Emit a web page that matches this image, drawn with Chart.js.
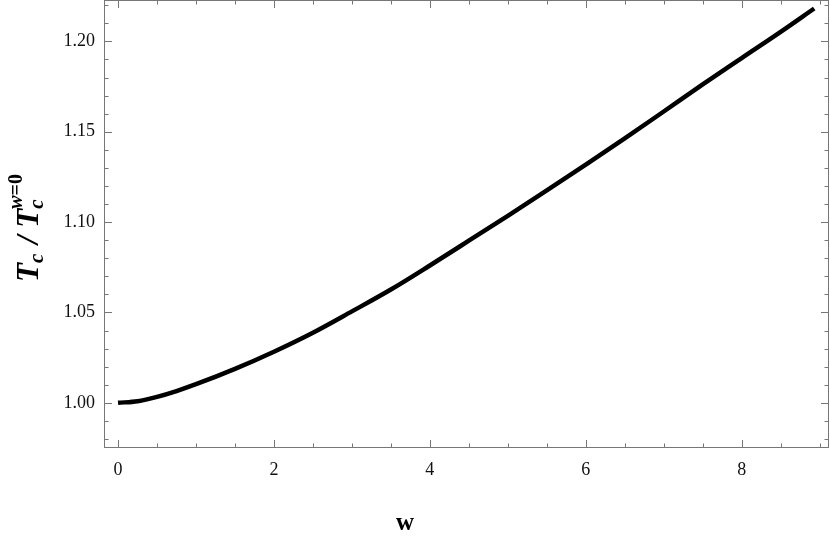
<!DOCTYPE html>
<html>
<head>
  <title>Tc ratio</title>
  <script src="https://cdn.jsdelivr.net/npm/chart.js"></script>
  <style>
    html, body { margin: 0; padding: 0; background: #fff; }
    #wrap { width: 830px; height: 544px; }
  </style>
</head>
<body>
  <div id="wrap"><canvas id="lineChart" width="830" height="544"></canvas></div>

  <script>
    // values
    const wValues = [0, 0.25, 0.5, 0.75, 1, 1.5, 2, 2.5, 3, 3.5, 4, 4.5, 5, 5.5, 6, 6.5, 7, 7.5, 8, 8.5, 8.93];
    const tcRatio = [1.000, 1.0009, 1.0033, 1.0065, 1.0103, 1.0188, 1.0283, 1.0388, 1.0506, 1.0627, 1.0760, 1.0897, 1.1035, 1.1175, 1.1318, 1.1463, 1.1612, 1.1762, 1.1908, 1.2053, 1.2182];

    const xMajor = [0, 2, 4, 6, 8];
    const xMinorStep = 0.5;
    const yMajor = [1.00, 1.05, 1.10, 1.15, 1.20];
    const yMinorStep = 0.01;

    const serif = "'Liberation Serif', 'DejaVu Serif', serif";

    function near(list, v) {
      return list.some(m => Math.abs(m - v) < 1e-6);
    }

    // inward frame ticks on all four sides, like a Mathematica frame
    const frameTicks = {
      id: 'frameTicks',
      afterDatasetsDraw(chart) {
        const { ctx, chartArea: a, scales: { x, y } } = chart;
        ctx.save();
        ctx.strokeStyle = '#777';
        ctx.lineWidth = 1;
        ctx.strokeRect(a.left + 0.5, a.top + 0.5, a.right - a.left - 1, a.bottom - a.top - 1);
        ctx.beginPath();
        for (let v = 0; v <= 9.001; v += xMinorStep) {
          const px = Math.round(x.getPixelForValue(v)) + 0.5;
          const len = near(xMajor, v) ? 8 : 4.5;
          ctx.moveTo(px, a.bottom); ctx.lineTo(px, a.bottom - len);
          ctx.moveTo(px, a.top); ctx.lineTo(px, a.top + len);
        }
        for (let v = 0.98; v <= 1.2201; v += yMinorStep) {
          const py = Math.round(y.getPixelForValue(v)) + 0.5;
          const len = near(yMajor, v) ? 8 : 4.5;
          ctx.moveTo(a.left, py); ctx.lineTo(a.left + len, py);
          ctx.moveTo(a.right, py); ctx.lineTo(a.right - len, py);
        }
        ctx.stroke();
        ctx.restore();
      },
      afterDraw(chart) {
        const ctx = chart.ctx;
        ctx.save();
        ctx.fillStyle = '#000';
        // x title
        ctx.font = 'bold 25px ' + serif;
        ctx.textAlign = 'center';
        ctx.textBaseline = 'alphabetic';
        ctx.fillText('w', 405, 530);

        // y title: T_c / T_c^{w=0}
        const big = 'italic bold 31px ' + serif;
        const subF = 'italic bold 21px ' + serif;
        const supI = 'italic bold 20px ' + serif;
        const supB = 'bold 20px ' + serif;
        ctx.textAlign = 'left';
        ctx.font = big; const wT = ctx.measureText('T').width;
        ctx.font = subF; const wc = ctx.measureText('c').width;
        ctx.font = big; const wSl = ctx.measureText(' / ').width;
        ctx.font = supI; const ww = ctx.measureText('w').width;
        ctx.font = supB; const weq = ctx.measureText('=0').width;
        const total = wT + wc + 2 + wSl + wT + Math.max(ww + weq, wc);
        ctx.translate(38, 228);
        ctx.rotate(-Math.PI / 2);
        let cx = -total / 2;
        ctx.font = big; ctx.fillText('T', cx, 0); cx += wT;
        ctx.font = subF; ctx.fillText('c', cx, 5); cx += wc + 2;
        ctx.font = big; ctx.fillText(' / ', cx, 0); cx += wSl;
        ctx.font = big; ctx.fillText('T', cx, 0); cx += wT;
        ctx.font = subF; ctx.fillText('c', cx, 5);
        ctx.font = supI; ctx.fillText('w', cx, -16);
        ctx.font = supB; ctx.fillText('=0', cx + ww, -16);
        ctx.restore();
      }
    };

    new Chart(document.getElementById('lineChart'), {
      type: 'line',
      data: {
        datasets: [{
          label: 'Tc ratio',
          data: wValues.map((w, i) => ({ x: w, y: tcRatio[i] })),
          borderColor: '#000',
          borderWidth: 4.5,
          pointRadius: 0,
          fill: false,
          cubicInterpolationMode: 'monotone'
        }]
      },
      options: {
        responsive: false,
        animation: false,
        layout: { padding: { top: 0, right: 1, left: 0, bottom: 0 } },
        plugins: {
          legend: { display: false },
          tooltip: { enabled: false }
        },
        scales: {
          x: {
            type: 'linear',
            min: -0.18,
            max: 9.12,
            afterFit: s => { s.height = 96; s.paddingLeft = 0; s.paddingRight = 0; },
            afterBuildTicks: s => { s.ticks = xMajor.map(v => ({ value: v })); },
            ticks: {
              padding: 11,
              color: '#111',
              font: { family: serif, size: 18 },
              callback: v => String(v)
            },
            grid: { display: false, drawTicks: false },
            border: { display: false }
          },
          y: {
            min: 0.975,
            max: 1.2229,
            afterFit: s => { s.width = 104; s.paddingTop = 0; s.paddingBottom = 0; },
            afterBuildTicks: s => { s.ticks = yMajor.map(v => ({ value: v })); },
            ticks: {
              padding: 9,
              color: '#111',
              font: { family: serif, size: 18 },
              callback: v => Number(v).toFixed(2)
            },
            grid: { display: false, drawTicks: false },
            border: { display: false }
          }
        }
      },
      plugins: [frameTicks]
    });
  </script>
</body>
</html>
